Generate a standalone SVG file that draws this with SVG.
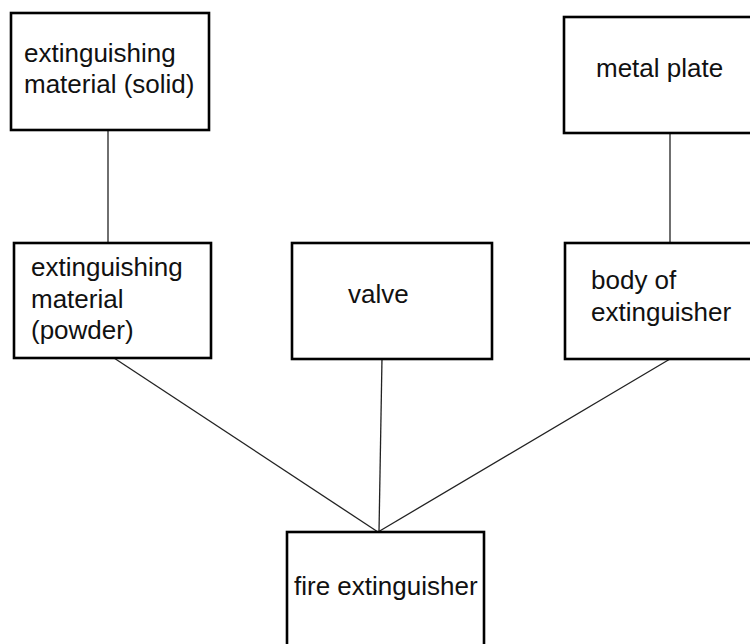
<svg xmlns="http://www.w3.org/2000/svg" width="750" height="644" viewBox="0 0 750 644">
  <style>
    .box { fill: #fff; stroke: #000; stroke-width: 2.6; }
    .lbl { font-family: "Liberation Sans", Arial, sans-serif; font-size: 26px; fill: #111; }
    .link { stroke: #222; stroke-width: 1.3; fill: none; }
  </style>
  <rect width="750" height="644" fill="#fff"/>

  <g id="connectors">
    <line class="link" x1="108" y1="130" x2="108" y2="243"/>
    <line class="link" x1="670" y1="133" x2="670" y2="243"/>
    <line class="link" x1="114" y1="358" x2="378" y2="532"/>
    <line class="link" x1="382" y1="358" x2="379" y2="532"/>
    <line class="link" x1="670" y1="359" x2="378" y2="532"/>
  </g>

  <g id="solid">
    <rect class="box" x="11" y="13" width="198" height="117"/>
    <text class="lbl" x="24" y="62">extinguishing</text>
    <text class="lbl" x="24" y="93">material (solid)</text>
  </g>

  <g id="plate">
    <rect class="box" x="564" y="17" width="200" height="116"/>
    <text class="lbl" x="596" y="77">metal plate</text>
  </g>

  <g id="powder">
    <rect class="box" x="14" y="243" width="197" height="115"/>
    <text class="lbl" x="31" y="276">extinguishing</text>
    <text class="lbl" x="31" y="308">material</text>
    <text class="lbl" x="31" y="339">(powder)</text>
  </g>

  <g id="valve">
    <rect class="box" x="292" y="243" width="200" height="116"/>
    <text class="lbl" x="348" y="303">valve</text>
  </g>

  <g id="body">
    <rect class="box" x="565" y="243" width="200" height="116"/>
    <text class="lbl" x="591" y="289">body of</text>
    <text class="lbl" x="591" y="321">extinguisher</text>
  </g>

  <g id="extinguisher">
    <rect class="box" x="287" y="532" width="197" height="130"/>
    <text class="lbl" x="294" y="595">fire extinguisher</text>
  </g>
</svg>
